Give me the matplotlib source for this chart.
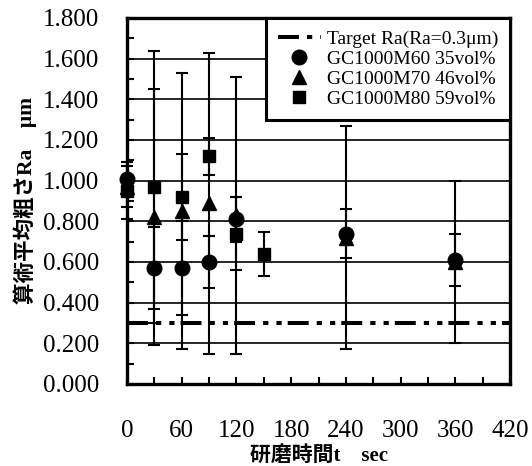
import matplotlib
matplotlib.use("Agg")
import matplotlib.pyplot as plt
from matplotlib.ticker import MultipleLocator, FormatStrFormatter

# polishing time t [sec] and arithmetic mean roughness Ra [um]
t_m60 = [0, 30, 60, 90, 120, 240, 360]
ra_m60 = [1.01, 0.57, 0.57, 0.60, 0.81, 0.74, 0.61]
err_m60 = [0.08, 0.20, 0.23, 0.13, 0.11, 0.12, 0.13]

t_m70 = [0, 30, 60, 90, 120, 240, 360]
ra_m70 = [0.97, 0.82, 0.85, 0.89, 0.83, 0.72, 0.60]
err_m70 = [0.10, 0.63, 0.68, 0.74, 0.68, 0.55, 0.40]

t_m80 = [0, 30, 60, 90, 120, 150]
ra_m80 = [0.95, 0.97, 0.92, 1.12, 0.74, 0.64]
err_m80 = [0.14, 0.67, 0.21, 0.09, 0.18, 0.11]

target_ra = 0.3

labels = ["GC1000M60 35vol%", "GC1000M70 46vol%", "GC1000M80 59vol%"]
target_label = "Target Ra(Ra=0.3μm)"

serif = ["Liberation Serif", "Noto Sans CJK JP"]

fig = plt.figure(figsize=(5.32, 4.66), dpi=100)
ax = fig.add_axes([127/532, 1 - 384/466, 383/532, 366/466])

# grid lines at major y ticks
ax.yaxis.grid(True, color="black", lw=1.2)
ax.set_axisbelow(True)

# target line (long dash, dot, dot)
ax.axhline(target_ra, color="black", lw=2.9,
           ls=(0, (5.2, 2.0, 1.3, 2.0, 1.3, 1.5)), label=target_label, zorder=2)

series = [(t_m60, ra_m60, err_m60, "o", 10.5),
          (t_m70, ra_m70, err_m70, "^", 10.5),
          (t_m80, ra_m80, err_m80, "s", 9.0)]
for (tt, rr, ee, mk, ms), lab in zip(series, labels):
    ax.errorbar(tt, rr, yerr=ee, fmt="none", ecolor="black", elinewidth=1.5,
                capsize=4.5, capthick=1.5, zorder=3, clip_on=False)
    ax.plot(tt, rr, ls="none", marker=mk, ms=ms, color="black",
            label=lab, zorder=4, clip_on=False)

ax.set_xlim(0, 420)
ax.set_ylim(0, 1.8)
ax.xaxis.set_major_locator(MultipleLocator(60))
ax.xaxis.set_minor_locator(MultipleLocator(30))
ax.yaxis.set_major_locator(MultipleLocator(0.2))
ax.yaxis.set_minor_locator(MultipleLocator(0.1))
ax.yaxis.set_major_formatter(FormatStrFormatter("%.3f"))

ax.tick_params(axis="both", which="both", direction="in", width=1.5, color="black")
ax.tick_params(axis="both", which="major", length=5)
ax.tick_params(axis="both", which="minor", length=5)
ax.tick_params(axis="y", pad=20)
ax.tick_params(axis="x", pad=26)
for lbl in ax.get_xticklabels() + ax.get_yticklabels():
    lbl.set_fontfamily(serif)
    lbl.set_fontsize(18)

for sp in ax.spines.values():
    sp.set_linewidth(2.4)

ax.set_xlabel("研磨時間t\u3000sec", family=serif, fontweight="bold",
              fontsize=15, labelpad=3)
ax.set_ylabel("算術平均粗さRa\u3000μm", family=serif, fontweight="bold",
              fontsize=15.5, labelpad=4)

leg = ax.legend(loc="upper right", bbox_to_anchor=(1, 1), borderaxespad=0,
                prop={"family": serif, "size": 14}, handlelength=2.2,
                handletextpad=0.3, labelspacing=0.12, borderpad=0.62,
                fancybox=False, framealpha=1, edgecolor="black")
leg.get_frame().set_linewidth(2.2)
leg.set_zorder(10)

fig.savefig("out.png", dpi=100)
